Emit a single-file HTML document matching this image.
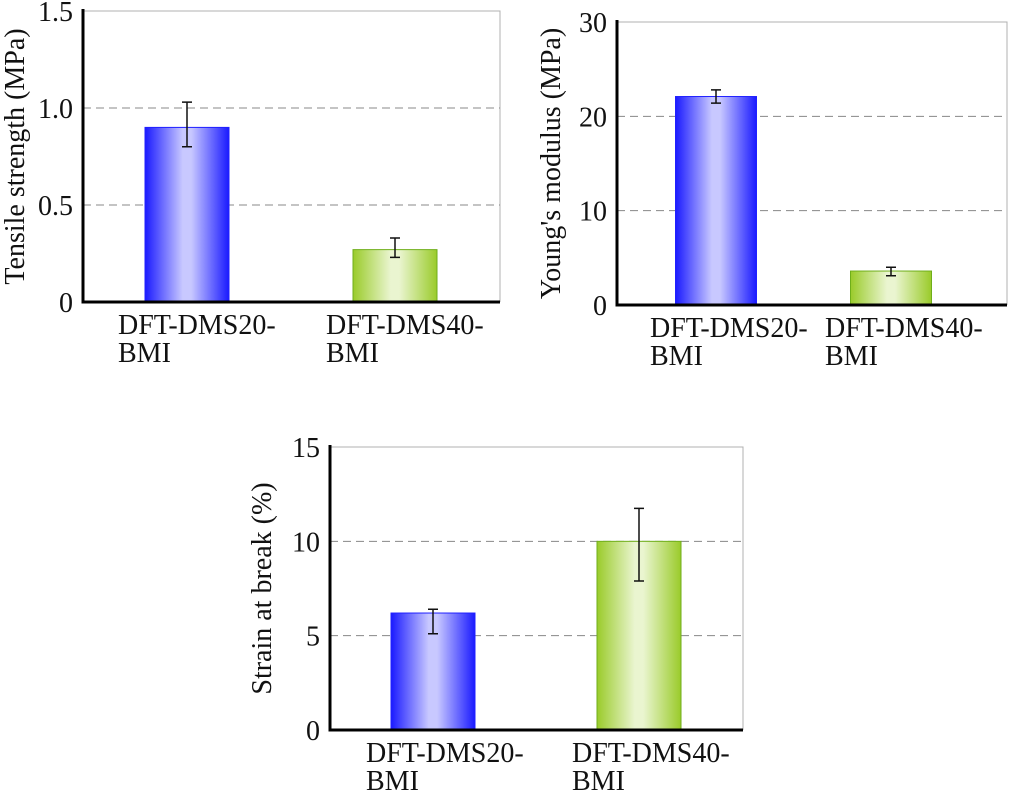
<!DOCTYPE html>
<html><head><meta charset="utf-8"><style>
body{margin:0;background:#fff}
svg{display:block;font-family:"Liberation Serif",serif}
</style></head><body>
<svg id="s" width="1024" height="796" viewBox="0 0 1024 796">
<defs>
<linearGradient id="gb" x1="0" x2="1" y1="0" y2="0"><stop offset="0" stop-color="#1a1aff"/><stop offset="0.45" stop-color="#c8c8ff"/><stop offset="0.55" stop-color="#c8c8ff"/><stop offset="1" stop-color="#1a1aff"/></linearGradient>
<linearGradient id="gg" x1="0" x2="1" y1="0" y2="0"><stop offset="0" stop-color="#9acb2a"/><stop offset="0.45" stop-color="#eaf5d0"/><stop offset="0.55" stop-color="#eaf5d0"/><stop offset="1" stop-color="#9acb2a"/></linearGradient>
</defs>
</svg>
<script>
const categories=["DFT-DMS20-","DFT-DMS40-"];
const tensileValues=[0.9,0.27];
const tensileErrLow=[0.80,0.23];
const tensileErrHigh=[1.03,0.33];
const tensileTicks=["0","0.5","1.0","1.5"];
const modulusValues=[22.1,3.6];
const modulusErrLow=[21.4,3.1];
const modulusErrHigh=[22.8,4.0];
const modulusTicks=["0","10","20","30"];
const strainValues=[6.2,10.0];
const strainErrLow=[5.1,7.9];
const strainErrHigh=[6.4,11.75];
const strainTicks=["0","5","10","15"];

const svg=document.getElementById('s');
const NS='http://www.w3.org/2000/svg';
function mk(tag,attrs,parent){const e=document.createElementNS(NS,tag);for(const k in attrs)e.setAttribute(k,attrs[k]);(parent||svg).appendChild(e);return e;}

function chart(id,cfg){
  const g=mk('g',{});
  
  
  const {x0,x1,y0,y1,max,ticks,vals,lo,hi,title,bars,barW}=cfg;
  const Y=v=>y0-(v/max)*(y0-y1);
  mk('path',{d:`M${x0} ${y1}H${x1}V${y0}`,fill:'none',stroke:'#b0b0b0','stroke-width':1},g);
  ticks.forEach((t,i)=>{
    const v=max*i/(ticks.length-1);const y=Y(v);
    if(i>0&&i<ticks.length-1){const gl=mk('line',{x1:x0,x2:x1,y1:y,y2:y,stroke:'#888','stroke-width':1,'stroke-dasharray':'8,5'},g);}
    const tl=mk('text',{x:x0-10,y:y+10,'text-anchor':'end','font-size':28,fill:'#111'},g);tl.textContent=t;
    
    
  });
  vals.forEach((v,i)=>{
    const cx=bars[i];
    const r=mk('rect',{x:cx-barW/2,y:Y(v),width:barW,height:y0-Y(v),fill:i==0?'url(#gb)':'url(#gg)',stroke:i==0?'#2020ff':'#6fae1a','stroke-width':1},g);
    
    
    const e=mk('path',{d:`M${cx-5} ${Y(hi[i])}H${cx+5}M${cx} ${Y(hi[i])}V${Y(lo[i])}M${cx-5} ${Y(lo[i])}H${cx+5}`,stroke:'#111','stroke-width':1.5,fill:'none'},g);
    
    
    const t=mk('text',{x:cx-cfg.lblOff,y:y0+32,'font-size':28,fill:'#111'},g);
    t.textContent=categories[i];
    
    
    const t2=mk('text',{x:cx-cfg.lblOff,y:y0+60,'font-size':28,fill:'#111'},g);
    t2.textContent='BMI';
    
    
  });
  mk('path',{d:`M${x0} ${y1-2}V${y0}H${x1}`,fill:'none',stroke:'#000','stroke-width':3},g);
  const tt=mk('text',{x:0,y:0,'font-size':28,'text-anchor':'middle',fill:'#111',transform:`translate(${cfg.titleX},${(y0+y1)/2}) rotate(-90)`},g);
  tt.textContent=title;
  
  
}
chart('tensile-chart',{x0:83,x1:500,y0:302,y1:11,max:1.5,ticks:tensileTicks,vals:tensileValues,lo:tensileErrLow,hi:tensileErrHigh,title:'Tensile strength (MPa)',titleX:24,bars:[187,395],barW:84,lblOff:69});
chart('modulus-chart',{x0:617,x1:1007,y0:305,y1:22,max:30,ticks:modulusTicks,vals:modulusValues,lo:modulusErrLow,hi:modulusErrHigh,title:"Young's modulus (MPa)",titleX:560,bars:[716,891],barW:81,lblOff:66});
chart('strain-chart',{x0:330,x1:743,y0:730,y1:447,max:15,ticks:strainTicks,vals:strainValues,lo:strainErrLow,hi:strainErrHigh,title:'Strain at break (%)',titleX:271,bars:[433,639],barW:84,lblOff:67});
</script>
</body></html>
